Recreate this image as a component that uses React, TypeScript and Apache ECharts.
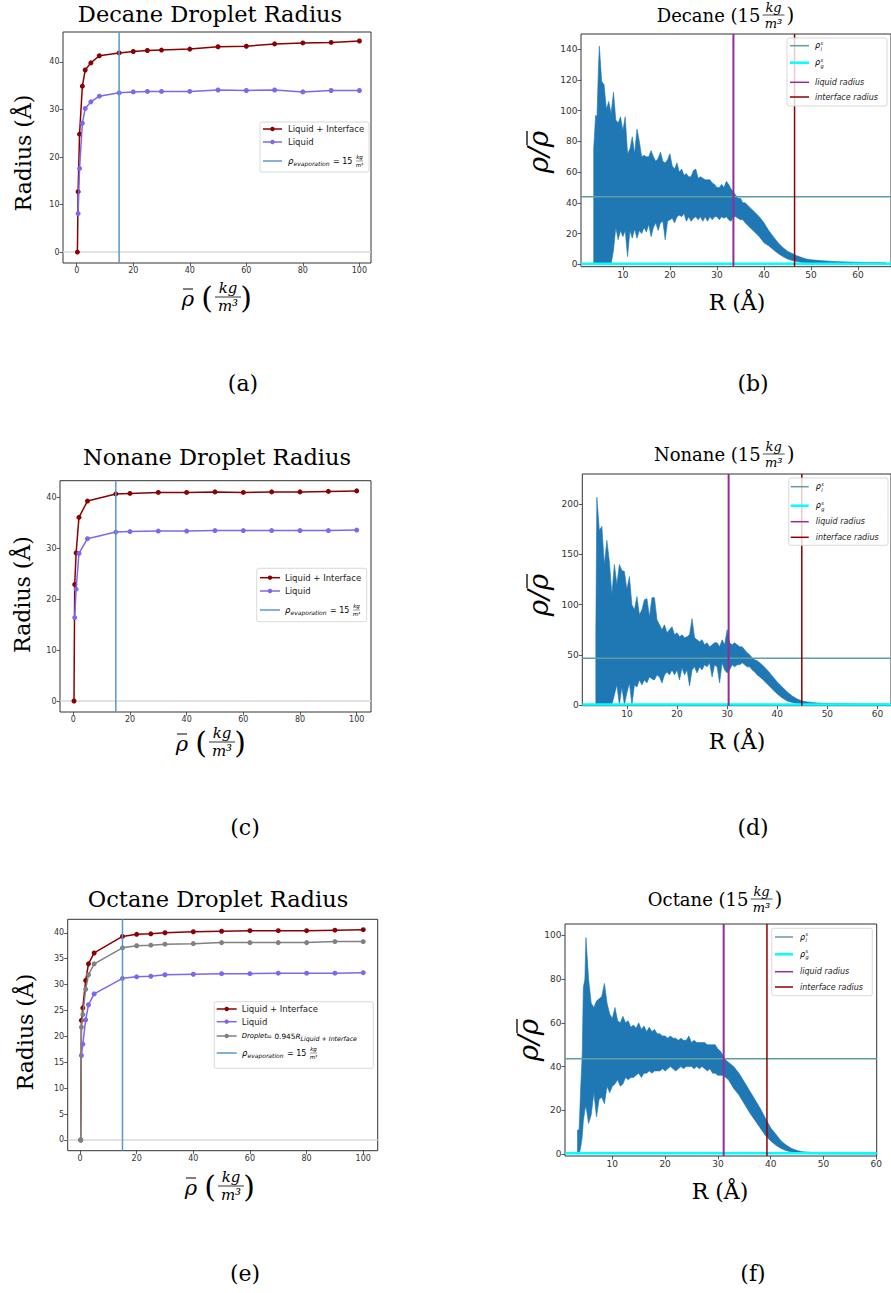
import React, { useEffect, useRef } from "react";
import * as echarts from "echarts";

// ---------- Droplet radius vs mean density (kg/m^3) ----------
const decaneDensity = [0.25, 0.5, 1, 2, 3, 5, 8, 15, 20, 25, 30, 40, 50, 60, 70, 80, 90, 100];
const decaneLiquidInterface = [0, 12.7, 24.8, 34.9, 38.3, 39.8, 41.3, 41.9, 42.2, 42.4, 42.5, 42.7, 43.2, 43.3, 43.8, 44.0, 44.1, 44.4];
const decaneLiquidDensity = [0.5, 1, 2, 3, 5, 8, 15, 20, 25, 30, 40, 50, 60, 70, 80, 90, 100];
const decaneLiquid = [8.1, 17.6, 27.1, 30.2, 31.6, 32.8, 33.5, 33.7, 33.8, 33.8, 33.8, 34.1, 34.0, 34.1, 33.7, 34.0, 34.0];

const nonaneDensity = [0.25, 0.5, 1, 2, 5, 15, 20, 30, 40, 50, 60, 70, 80, 90, 100];
const nonaneLiquidInterface = [0, 22.9, 29.1, 36.1, 39.3, 40.7, 40.8, 41.0, 41.0, 41.1, 41.0, 41.1, 41.1, 41.2, 41.3];
const nonaneLiquidDensity = [0.5, 1, 2, 5, 15, 20, 30, 40, 50, 60, 70, 80, 90, 100];
const nonaneLiquid = [16.4, 22.0, 29.0, 31.9, 33.2, 33.3, 33.4, 33.4, 33.5, 33.5, 33.5, 33.5, 33.5, 33.6];

const octaneDensity = [0.25, 0.5, 1, 2, 3, 5, 15, 20, 25, 30, 40, 50, 60, 70, 80, 90, 100];
const octaneLiquidInterface = [0, 23.1, 25.5, 30.8, 34.0, 36.1, 39.3, 39.7, 39.8, 40.0, 40.2, 40.3, 40.4, 40.4, 40.4, 40.5, 40.6];
const octaneDroplet = [0, 21.8, 24.2, 29.1, 31.9, 34.0, 37.1, 37.5, 37.6, 37.8, 37.9, 38.1, 38.1, 38.1, 38.1, 38.3, 38.3];
const octaneLiquidDensity = [0.5, 1, 2, 3, 5, 15, 20, 25, 30, 40, 50, 60, 70, 80, 90, 100];
const octaneLiquid = [16.3, 18.5, 23.2, 26.1, 28.2, 31.2, 31.5, 31.6, 31.9, 32.0, 32.1, 32.1, 32.2, 32.2, 32.2, 32.3];

const evaporationDensity = 15;

// ---------- Density profiles at 15 kg/m^3 (upper / lower envelope of rho/rho_bar) ----------
const decaneR = [3.8, 4.2, 4.5, 4.8, 5, 5.5, 6, 6.5, 7, 7.5, 8, 8.5, 9, 9.5, 10, 10.5, 11, 11.5, 12, 12.5, 13, 13.5, 14, 14.5, 15, 15.5, 16, 16.5, 17, 17.5, 18, 18.5, 19, 19.5, 20, 20.5, 21, 21.5, 22, 22.5, 23, 23.5, 24, 24.5, 25, 25.5, 26, 26.5, 27, 27.5, 28, 28.5, 29, 29.5, 30, 30.5, 31, 31.5, 32, 32.5, 33, 33.5, 34, 34.5, 35, 35.5, 36, 37, 38, 39, 40, 41, 42, 43, 44, 45, 46, 47, 48, 49, 50, 52, 54, 56, 58, 60, 62, 64, 66];
const decaneHigh = [75, 97, 96, 127, 142, 119, 117, 101, 106, 98, 112, 94, 92, 96, 87, 96, 72, 75, 83, 72, 88, 80, 70, 71, 70, 70, 74, 70, 67, 69, 73, 67, 66, 68, 72, 64, 62, 66, 60, 62, 58, 59, 57, 57, 61, 62, 56, 57, 56, 55, 55, 55, 53, 52, 50, 50, 52, 50, 54, 52, 49, 47, 45, 43, 43, 40, 40, 37, 34, 31, 27, 22, 18, 14, 11, 8.5, 7, 5.5, 4.5, 3.5, 3, 2.4, 2, 1.7, 1.5, 1.3, 1.2, 1.1, 1.0];
const decaneLow = [0, 0, 0, 0, 0, 0, 0, 0, 0, 0, 9, 24, 16, 22, 18, 22, 5, 22, 17, 23, 17, 22, 20, 24, 21, 26, 18, 24, 27, 22, 27, 28, 16, 28, 29, 30, 27, 31, 32, 31, 33, 28, 31, 28, 30, 31, 29, 31, 28, 31, 28, 31, 29, 31, 31, 29, 31, 30, 31, 29, 28, 31, 31, 30, 29, 29, 27, 24, 21, 18, 14, 12, 9.5, 7, 5, 3.5, 2.5, 1.8, 1.2, 0.8, 0.6, 0.4, 0.3, 0.2, 0.2, 0.2, 0.1, 0.1, 0.1];

const nonaneR = [3.8, 4, 4.5, 5, 5.5, 6, 6.5, 7, 7.5, 8, 8.5, 9, 9.5, 10, 10.5, 11, 11.5, 12, 12.5, 13, 13.5, 14, 14.5, 15, 15.5, 16, 16.5, 17, 17.5, 18, 18.5, 19, 19.5, 20, 20.5, 21, 21.5, 22, 22.5, 23, 23.5, 24, 24.5, 25, 25.5, 26, 26.5, 27, 27.5, 28, 28.5, 29, 29.5, 30, 30.5, 31, 31.5, 32, 32.5, 33, 33.5, 34, 34.5, 35, 35.5, 36, 37, 38, 39, 40, 41, 42, 43, 44, 45, 46, 47, 48, 50, 52, 54, 56, 58, 60, 62, 64];
const nonaneHigh = [73, 207, 174, 178, 140, 164, 143, 110, 140, 120, 140, 134, 133, 115, 128, 100, 95, 108, 90, 95, 105, 106, 88, 107, 107, 85, 80, 75, 80, 72, 75, 78, 70, 72, 68, 70, 67, 68, 70, 86, 67, 65, 63, 65, 60, 62, 58, 60, 62, 62, 58, 65, 60, 75, 62, 60, 62, 60, 58, 58, 55, 52, 50, 47, 45, 44, 40, 35, 29, 23, 18, 13, 9, 6, 4, 3, 2.5, 2, 1.5, 1.3, 1.2, 1.1, 1.1, 1.0, 1.0, 1.0];
const nonaneLow = [0, 0, 0, 0, 0, 0, 0, 0, 10, 20, 0, 18, 0, 12, 22, 0, 20, 18, 25, 20, 25, 22, 28, 26, 25, 30, 28, 22, 30, 33, 30, 35, 30, 35, 25, 37, 30, 35, 19, 35, 38, 32, 38, 35, 40, 38, 42, 28, 40, 38, 22, 42, 35, 32, 35, 40, 38, 40, 40, 42, 40, 38, 38, 35, 33, 30, 26, 21, 16, 11, 7, 4, 2.5, 1.5, 1, 0.7, 0.5, 0.4, 0.3, 0.2, 0.2, 0.2, 0.1, 0.1, 0.1, 0.1];

const octaneR = [3.4, 3.7, 4, 4.3, 4.5, 4.8, 5, 5.5, 6, 6.5, 7, 7.5, 8, 8.5, 9, 9.5, 10, 10.5, 11, 11.5, 12, 12.5, 13, 13.5, 14, 14.5, 15, 15.5, 16, 16.5, 17, 17.5, 18, 18.5, 19, 19.5, 20, 20.5, 21, 21.5, 22, 22.5, 23, 23.5, 24, 24.5, 25, 25.5, 26, 26.5, 27, 27.5, 28, 28.5, 29, 29.5, 30, 30.5, 31, 31.5, 32, 33, 34, 35, 36, 37, 38, 39, 40, 41, 42, 43, 44, 45, 46, 48, 50, 55, 60];
const octaneHigh = [11, 11, 30, 46, 76, 80, 99, 80, 69, 67, 70, 71, 72, 78, 69, 64, 62, 67, 61, 60, 63, 60, 61, 58, 59, 57.5, 60, 57, 58.5, 56, 58, 56, 57, 55, 55, 54, 54, 53, 54, 53, 53, 52, 53, 52, 52, 54, 51, 52, 51, 51, 51, 51, 50, 50, 50, 50, 48, 47, 45, 43, 42, 40, 37, 33, 29, 25, 21, 16.5, 12, 9, 6, 4, 2.5, 1.6, 1.1, 0.7, 0.5, 0.3, 0.2];
const octaneLow = [0, 0, 3, 8, 15, 20, 22, 14, 18, 28, 17, 25, 26, 23, 31, 28, 31, 32, 34, 31, 32, 35, 34, 35, 35, 36, 37, 35, 37, 37, 38, 37, 38, 38, 38, 39, 38, 39, 40, 39, 38, 39, 40, 39, 40, 40, 40, 39, 40, 39, 40, 39, 38, 39, 37, 37, 36, 36, 36, 35, 34, 30, 27, 23, 19, 15.5, 12, 8.5, 6, 4, 2.5, 1.5, 0.9, 0.6, 0.4, 0.2, 0.1, 0.05, 0];

// reference lines of the profiles: [liquid radius, interface radius, rho_l^s, rho_g^s]
const decaneMarks = [33.5, 46.5, 44.0, 0.4];
const nonaneMarks = [30.3, 44.9, 46.5, 0.5];
const octaneMarks = [31.1, 39.3, 43.6, 0.4];

// axis ticks
const radiusXTicks = [0, 20, 40, 60, 80, 100];
const radiusYTicks10 = [0, 10, 20, 30, 40];
const radiusYTicks5 = [0, 5, 10, 15, 20, 25, 30, 35, 40];
const profileXTicks = [10, 20, 30, 40, 50, 60];
const decaneProfileYTicks = [0, 20, 40, 60, 80, 100, 120, 140];
const nonaneProfileYTicks = [0, 50, 100, 150, 200];
const octaneProfileYTicks = [0, 20, 40, 60, 80, 100];

// ---------- styling / layout ----------
const RED = "#8b0000";
const LIQ = "#7b68ee";
const GRAY = "#808080";
const EVAP = "#5b97cb";
const ZERO = "#d9d9d9";
const TEAL = "#5f9ea0";
const CYAN = "#00ffff";
const PURPLE = "#932d96";
const PROFILE = "#1f77b4";
const SANS = "DejaVu Sans";
const SERIF = "DejaVu Serif";

const GRIDS = [
  { left: 63, top: 32, width: 308, height: 231 },
  { left: 581, top: 34, width: 320.7, height: 232.7 },
  { left: 60, top: 480.7, width: 311, height: 231.3 },
  { left: 582.3, top: 474, width: 323.4, height: 231.7 },
  { left: 67.7, top: 919.3, width: 310, height: 231.4 },
  { left: 565, top: 924, width: 311.7, height: 232 },
];

const AX: any[] = [
  { x: [-4.85, 104.1], y: [-2.3, 46.3], xt: radiusXTicks, yt: radiusYTicks10, fs: 8 },
  { x: [1.1, 67], y: [-1.56, 149.9], xt: profileXTicks, yt: decaneProfileYTicks, fs: 9 },
  { x: [-4.69, 105.05], y: [-2.16, 43.3], xt: radiusXTicks, yt: radiusYTicks10, fs: 8 },
  { x: [1.1, 62.7], y: [-0.7, 230.2], xt: profileXTicks, yt: nonaneProfileYTicks, fs: 9 },
  { x: [-4.34, 105.1], y: [-2.07, 42.6], xt: radiusXTicks, yt: radiusYTicks5, fs: 8 },
  { x: [1.03, 60.1], y: [-0.9, 105.2], xt: profileXTicks, yt: octaneProfileYTicks, fs: 9 },
];

function axisCfg(g: number, dim: "x" | "y") {
  const a = AX[g];
  const ticks = dim === "x" ? a.xt : a.yt;
  const [min, max] = dim === "x" ? a.x : a.y;
  return {
    type: "value",
    gridIndex: g,
    min,
    max,
    axisLine: { show: false, onZero: false },
    splitLine: { show: false },
    axisTick: { show: true, inside: false, length: 3.5, customValues: ticks, lineStyle: { color: "#333", width: 0.8 } },
    axisLabel: { show: true, customValues: ticks, fontSize: a.fs, color: "#333", fontFamily: SANS, margin: 3.5 },
  };
}

function pts(xs: number[], ys: number[]) {
  return xs.map((x, i) => [x, ys[i]]);
}

function radiusLine(g: number, name: string, xs: number[], ys: number[], color: string, z: number) {
  return {
    type: "line",
    name,
    xAxisIndex: g,
    yAxisIndex: g,
    data: pts(xs, ys),
    symbol: "circle",
    symbolSize: 5,
    lineStyle: { color, width: 1.5 },
    itemStyle: { color },
    z,
    silent: true,
  };
}

function refV(g: number, x: number, color: string, width: number, z: number) {
  const [y0, y1] = AX[g].y;
  return { type: "line", xAxisIndex: g, yAxisIndex: g, data: [[x, y0], [x, y1]], symbol: "none", lineStyle: { color, width }, z, silent: true };
}

function refH(g: number, y: number, color: string, width: number, z: number) {
  const [x0, x1] = AX[g].x;
  return { type: "line", xAxisIndex: g, yAxisIndex: g, data: [[x0, y], [x1, y]], symbol: "none", lineStyle: { color, width }, z, silent: true };
}

function profile(g: number, R: number[], hi: number[], lo: number[]) {
  return {
    type: "custom",
    xAxisIndex: g,
    yAxisIndex: g,
    data: R.map((r, i) => [r, hi[i], lo[i]]),
    encode: { x: 0, y: [1, 2] },
    clip: true,
    silent: true,
    z: 2,
    renderItem: (params: any, api: any) => {
      if (params.dataIndex !== 0) return { type: "group", children: [] };
      const top = R.map((r, i) => api.coord([r, hi[i]]));
      const bottom = R.map((r, i) => api.coord([r, lo[i]])).reverse();
      return {
        type: "polygon",
        shape: { points: top.concat(bottom) },
        style: { fill: PROFILE, stroke: PROFILE, lineWidth: 0.6 },
      };
    },
  };
}

// ---------- graphic helpers ----------
function T(x: number, y: number, text: string, size: number, o: any = {}) {
  const align = o.align || "center";
  const valign = o.valign || "middle";
  return {
    type: "text",
    x,
    y,
    rotation: o.rot || 0,
    z: 60,
    silent: true,
    style: {
      text,
      fontSize: size,
      fontFamily: o.font || SERIF,
      fontStyle: o.italic ? "italic" : "normal",
      fill: o.color || "#000",
      textAlign: align,
      align,
      textVerticalAlign: valign,
      verticalAlign: valign,
    },
  };
}

function L(x1: number, y1: number, x2: number, y2: number, color: string, width: number, z = 60) {
  return { type: "line", shape: { x1, y1, x2, y2 }, style: { stroke: color, lineWidth: width }, z, silent: true };
}

function box(x: number, y: number, w: number, h: number) {
  return {
    type: "rect",
    shape: { x, y, width: w, height: h, r: 2 },
    style: { fill: "rgba(255,255,255,0.8)", stroke: "#cfcfcf", lineWidth: 0.8 },
    z: 55,
    silent: true,
  };
}

function legLine(x1: number, x2: number, y: number, color: string, width: number, marker: boolean) {
  const arr: any[] = [L(x1, y, x2, y, color, width, 58)];
  if (marker) arr.push({ type: "circle", shape: { cx: (x1 + x2) / 2, cy: y, r: 2.2 }, style: { fill: color }, z: 59, silent: true });
  return arr;
}

function evapLabel(x: number, y: number) {
  return [
    T(x, y, "ρ", 8.5, { font: SANS, italic: true, align: "left" }),
    T(x + 5.5, y + 2.5, "evaporation", 6, { font: SANS, italic: true, align: "left" }),
    T(x + 45, y, "= 15", 8, { font: SANS, align: "left" }),
    T(x + 71.5, y - 3.6, "kg", 5.5, { font: SANS, italic: true }),
    L(x + 68, y, x + 75, y, "#333", 0.5),
    T(x + 71.5, y + 3.6, "m³", 5.5, { font: SANS, italic: true }),
  ];
}

function rhoS(x: number, y: number, sub: string) {
  return [
    T(x, y, "ρ", 8, { font: SANS, italic: true, align: "left" }),
    T(x + 5.5, y - 3, "s", 5, { font: SANS, italic: true, align: "left" }),
    T(x + 5.5, y + 3, sub, 5, { font: SANS, italic: true, align: "left" }),
  ];
}

function radiusLegend(bx: number, by: number, bw: number, bh: number, lx1: number, lx2: number, tx: number, ys: number[]) {
  return [
    box(bx, by, bw, bh),
    ...legLine(lx1, lx2, ys[0], RED, 1.5, true),
    T(tx, ys[0], "Liquid + Interface", 8.5, { font: SANS, align: "left", color: "#222" }),
    ...legLine(lx1, lx2, ys[1], LIQ, 1.5, true),
    T(tx, ys[1], "Liquid", 8.5, { font: SANS, align: "left", color: "#222" }),
    ...legLine(lx1, lx2, ys[2], EVAP, 1.5, false),
    ...evapLabel(tx, ys[2]),
  ];
}

function profileLegend(bx: number, by: number, bw: number, bh: number, lx1: number, lx2: number, tx: number, ys: number[]) {
  return [
    box(bx, by, bw, bh),
    ...legLine(lx1, lx2, ys[0], TEAL, 1.5, false),
    ...rhoS(tx, ys[0], "l"),
    ...legLine(lx1, lx2, ys[1], CYAN, 2.5, false),
    ...rhoS(tx, ys[1], "g"),
    ...legLine(lx1, lx2, ys[2], PURPLE, 1.5, false),
    T(tx, ys[2], "liquid radius", 8, { font: SANS, italic: true, align: "left", color: "#222" }),
    ...legLine(lx1, lx2, ys[3], RED, 1.5, false),
    T(tx, ys[3], "interface radius", 8, { font: SANS, italic: true, align: "left", color: "#222" }),
  ];
}

function rhoBarXLabel(fx: number, fy: number) {
  return [
    T(fx - 40, fy + 2, "ρ", 21, { italic: true }),
    L(fx - 45, fy - 8, fx - 35, fy - 8, "#000", 1),
    T(fx - 21, fy, "(", 30),
    T(fx + 18, fy, ")", 30),
    T(fx, fy - 9, "kg", 15, { italic: true }),
    L(fx - 13, fy, fx + 13, fy, "#000", 0.8),
    T(fx, fy + 9, "m³", 15, { italic: true }),
  ];
}

function profileTitle(name: string, fx: number, fy: number) {
  return [
    T(fx - 13, fy, name + " (15", 18, { align: "right" }),
    T(fx, fy - 8, "kg", 13, { italic: true }),
    L(fx - 11, fy, fx + 11, fy, "#000", 0.7),
    T(fx, fy + 8, "m³", 13, { italic: true }),
    T(fx + 17, fy, ")", 20),
  ];
}

function rhoRatioYLabel(x: number, y: number) {
  return {
    type: "group",
    x,
    y,
    rotation: Math.PI / 2,
    z: 60,
    silent: true,
    children: [
      {
        type: "text",
        x: 0,
        y: 0,
        style: {
          text: "ρ/ρ",
          fontSize: 28,
          fontFamily: SERIF,
          fontStyle: "italic",
          fill: "#000",
          textAlign: "center",
          align: "center",
          textVerticalAlign: "middle",
          verticalAlign: "middle",
        },
      },
      { type: "line", shape: { x1: 7, y1: -11, x2: 21, y2: -11 }, style: { stroke: "#000", lineWidth: 1.3 } },
    ],
  };
}

const graphicElements: any[] = [
  // titles
  T(210, 14, "Decane Droplet Radius", 22.5),
  T(217, 457, "Nonane Droplet Radius", 22.5),
  T(218, 899, "Octane Droplet Radius", 22.5),
  ...profileTitle("Decane", 773.5, 15),
  ...profileTitle("Nonane", 773.7, 454),
  ...profileTitle("Octane", 761.5, 899),
  // y labels
  T(23, 153, "Radius (Å)", 22, { rot: Math.PI / 2 }),
  T(22, 594.5, "Radius (Å)", 22, { rot: Math.PI / 2 }),
  T(25, 1032, "Radius (Å)", 22, { rot: Math.PI / 2 }),
  rhoRatioYLabel(538, 152),
  rhoRatioYLabel(538, 595),
  rhoRatioYLabel(528, 1040),
  // x labels
  ...rhoBarXLabel(228, 297),
  ...rhoBarXLabel(222, 742),
  ...rhoBarXLabel(231, 1186),
  T(737, 302, "R (Å)", 22),
  T(737, 741.7, "R (Å)", 22),
  T(720, 1191.7, "R (Å)", 22),
  // legends
  ...radiusLegend(260, 122, 109, 50, 263, 282, 288, [129, 142, 161]),
  ...radiusLegend(256.7, 568.3, 110, 53.4, 260, 280, 285, [577.7, 591, 610]),
  box(214.3, 1001.7, 159, 66.6),
  ...legLine(216.7, 236.7, 1009, RED, 1.5, true),
  T(241.7, 1009, "Liquid + Interface", 8.5, { font: SANS, align: "left", color: "#222" }),
  ...legLine(216.7, 236.7, 1021.7, LIQ, 1.5, true),
  T(241.7, 1021.7, "Liquid", 8.5, { font: SANS, align: "left", color: "#222" }),
  ...legLine(216.7, 236.7, 1036, GRAY, 1.5, true),
  T(241.7, 1036, "Droplet", 6.8, { font: SANS, italic: true, align: "left" }),
  T(266, 1036, "= 0.945", 7.3, { font: SANS, align: "left" }),
  T(295.5, 1036, "R", 7.3, { font: SANS, italic: true, align: "left" }),
  T(300.5, 1038.5, "Liquid + Interface", 6.3, { font: SANS, italic: true, align: "left" }),
  ...legLine(216.7, 236.7, 1053, EVAP, 1.5, false),
  ...evapLabel(242, 1053),
  ...profileLegend(787, 38, 100, 68, 790, 809, 815, [45.7, 62.7, 82.3, 97]),
  ...profileLegend(788.7, 478, 99.3, 67.3, 790.7, 808.7, 815.7, [486.7, 505.7, 521.7, 537.3]),
  ...profileLegend(771.7, 928.3, 100.6, 67.4, 775, 793, 800, [937, 954.3, 971.7, 987]),
  // captions
  T(243, 383, "(a)", 22),
  T(753, 383, "(b)", 22),
  T(245, 827, "(c)", 22),
  T(753, 827, "(d)", 22),
  T(245, 1273, "(e)", 22),
  T(753, 1273, "(f)", 22),
];

const series: any[] = [
  // (a) decane radius
  refH(0, 0, ZERO, 1.5, 1),
  radiusLine(0, "Liquid + Interface", decaneDensity, decaneLiquidInterface, RED, 3),
  radiusLine(0, "Liquid", decaneLiquidDensity, decaneLiquid, LIQ, 4),
  refV(0, evaporationDensity, EVAP, 1.5, 5),
  // (b) decane profile
  profile(1, decaneR, decaneHigh, decaneLow),
  refH(1, decaneMarks[2], TEAL, 1.5, 3),
  refH(1, decaneMarks[3], CYAN, 2.5, 4),
  refV(1, decaneMarks[0], PURPLE, 2, 5),
  refV(1, decaneMarks[1], RED, 1.5, 6),
  // (c) nonane radius
  refH(2, 0, ZERO, 1.5, 1),
  radiusLine(2, "Liquid + Interface", nonaneDensity, nonaneLiquidInterface, RED, 3),
  radiusLine(2, "Liquid", nonaneLiquidDensity, nonaneLiquid, LIQ, 4),
  refV(2, evaporationDensity, EVAP, 1.5, 5),
  // (d) nonane profile
  profile(3, nonaneR, nonaneHigh, nonaneLow),
  refH(3, nonaneMarks[2], TEAL, 1.5, 3),
  refH(3, nonaneMarks[3], CYAN, 2.5, 4),
  refV(3, nonaneMarks[0], PURPLE, 2, 5),
  refV(3, nonaneMarks[1], RED, 1.5, 6),
  // (e) octane radius
  refH(4, 0, ZERO, 1.5, 1),
  radiusLine(4, "Liquid + Interface", octaneDensity, octaneLiquidInterface, RED, 3),
  radiusLine(4, "Liquid", octaneLiquidDensity, octaneLiquid, LIQ, 4),
  radiusLine(4, "Droplet", octaneDensity, octaneDroplet, GRAY, 4.5),
  refV(4, evaporationDensity, EVAP, 1.5, 5),
  // (f) octane profile
  profile(5, octaneR, octaneHigh, octaneLow),
  refH(5, octaneMarks[2], TEAL, 1.5, 3),
  refH(5, octaneMarks[3], CYAN, 2.5, 4),
  refV(5, octaneMarks[0], PURPLE, 2, 5),
  refV(5, octaneMarks[1], RED, 1.5, 6),
];

const option: any = {
  animation: false,
  backgroundColor: "#ffffff",
  grid: GRIDS.map((g) => ({ ...g, show: true, borderColor: "#333", borderWidth: 1, backgroundColor: "transparent", containLabel: false })),
  xAxis: GRIDS.map((_, i) => axisCfg(i, "x")),
  yAxis: GRIDS.map((_, i) => axisCfg(i, "y")),
  series,
  graphic: { elements: graphicElements },
};

export default function App() {
  const ref = useRef<HTMLDivElement>(null);
  useEffect(() => {
    const chart = echarts.init(ref.current as HTMLDivElement, null, { renderer: "svg" });
    chart.setOption(option);
    return () => chart.dispose();
  }, []);
  return (
    <div
      ref={ref}
      style={{ position: "fixed", left: 0, top: 0, width: 891, height: 1293, background: "#fff" }}
    />
  );
}
